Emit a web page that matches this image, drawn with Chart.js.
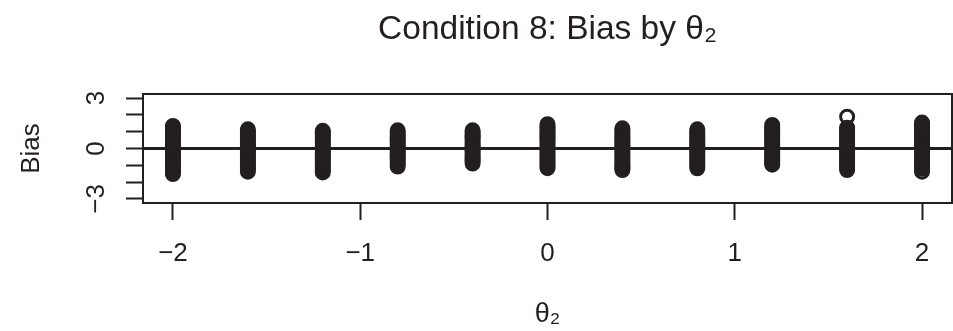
<!DOCTYPE html>
<html>
<head>
<meta charset="utf-8">
<script src="https://cdn.jsdelivr.net/npm/chart.js@4.4.1/dist/chart.umd.min.js"></script>
<style>
html,body{margin:0;padding:0;background:#fff;}
#wrap{width:953px;height:331px;}
</style>
</head>
<body>
<div id="wrap"><canvas id="chart" width="953" height="331"></canvas></div>
<script>

/* DATA */
let thetaLevels = [-2, -1.6, -1.2, -0.8, -0.4, 0, 0.4, 0.8, 1.2, 1.6, 2];

let biasM20 = [1.34, 1.24, 1.12, 1.01, 0.9, 0.78, 0.66, 0.55, 0.43, 0.31, 0.2, 0.08, -0.04, -0.15, -0.27, -0.39, -0.5, -0.62, -0.74, -0.85, -0.97, -1.08, -1.2, -1.31, -1.42, -1.52];
let biasM16 = [1.14, 1.03, 0.92, 0.8, 0.69, 0.57, 0.46, 0.34, 0.22, 0.11, -0.01, -0.12, -0.24, -0.35, -0.47, -0.58, -0.7, -0.81, -0.93, -1.04, -1.15, -1.25, -1.38];
let biasM12 = [1.05, 0.94, 0.83, 0.71, 0.6, 0.48, 0.37, 0.25, 0.14, 0.02, -0.09, -0.21, -0.32, -0.44, -0.55, -0.67, -0.78, -0.9, -1.01, -1.13, -1.24, -1.3, -1.42];
let biasM08 = [1.08, 0.97, 0.86, 0.74, 0.63, 0.52, 0.41, 0.3, 0.18, 0.07, -0.04, -0.15, -0.27, -0.38, -0.49, -0.6, -0.72, -0.83, -0.95, -1.07];
let biasM04 = [1.08, 0.97, 0.86, 0.75, 0.64, 0.53, 0.42, 0.31, 0.2, 0.09, -0.02, -0.13, -0.24, -0.35, -0.46, -0.57, -0.68, -0.78, -0.89];
let bias00 = [1.44, 1.33, 1.22, 1.1, 0.99, 0.87, 0.76, 0.64, 0.53, 0.41, 0.3, 0.18, 0.07, -0.05, -0.16, -0.28, -0.39, -0.51, -0.62, -0.74, -0.85, -0.97, -1.07, -1.17];
let biasP04 = [1.2, 1.09, 0.97, 0.86, 0.74, 0.63, 0.51, 0.4, 0.28, 0.17, 0.05, -0.06, -0.18, -0.29, -0.41, -0.52, -0.64, -0.75, -0.87, -0.98, -1.1, -1.17, -1.28];
let biasP08 = [1.14, 1.03, 0.91, 0.8, 0.68, 0.57, 0.45, 0.34, 0.22, 0.11, -0.01, -0.12, -0.24, -0.35, -0.47, -0.58, -0.7, -0.81, -0.93, -1.05, -1.18];
let biasP12 = [1.4, 1.27, 1.17, 1.06, 0.94, 0.83, 0.71, 0.6, 0.48, 0.37, 0.25, 0.14, 0.02, -0.09, -0.21, -0.32, -0.44, -0.55, -0.67, -0.78, -0.88, -0.96];
let biasP16 = [1.89, 1.24, 1.13, 1.01, 0.9, 0.78, 0.67, 0.55, 0.44, 0.32, 0.21, 0.09, -0.02, -0.14, -0.25, -0.37, -0.48, -0.6, -0.71, -0.83, -0.94, -1.06, -1.16, -1.28];
let biasP20 = [1.54, 1.43, 1.31, 1.2, 1.08, 0.97, 0.85, 0.74, 0.62, 0.51, 0.39, 0.28, 0.16, 0.05, -0.07, -0.18, -0.3, -0.41, -0.53, -0.64, -0.76, -0.87, -0.99, -1.1, -1.2, -1.38];

let biasColumns = [biasM20, biasM16, biasM12, biasM08, biasM04, bias00, biasP04, biasP08, biasP12, biasP16, biasP20];

let xTicks = [-2, -1, 0, 1, 2];
let yTicks = [-3, -2, -1, 0, 1, 2, 3];
let yTickLabels = [-3, 0, 3];
let xLimits = [-2.16, 2.16];
let yLimits = [-3.24, 3.24];

let ink = "#231f20";
let family = "'Liberation Sans', Arial, Helvetica, sans-serif";

/* POINTS */
let points = [];
thetaLevels.forEach((t, i) => {
biasColumns[i].forEach(b => {
points.push({x: t, y: b});
});
});

function fmt(v){
return v < 0 ? "\u2212" + Math.abs(v) : String(v);
}

// keep the plot region where R put it: no label overhang padding
function noPad(s){
s.paddingLeft = 0;
s.paddingRight = 0;
s.paddingTop = 0;
s.paddingBottom = 0;
}

/* plot box round the chart area, like R's box() */
let framePlugin = {
id: "frame",
afterDatasetsDraw(c){
let a = c.chartArea;
let g = c.ctx;
g.save();
g.strokeStyle = ink;
g.lineWidth = 2;
g.strokeRect(a.left, a.top, a.right - a.left, a.bottom - a.top);
g.restore();
}
};

Chart.defaults.font.family = family;

let ctx = document.getElementById("chart").getContext("2d");

let chart = new Chart(ctx, {
type: "scatter",
data: {
datasets: [
{
label: "Bias",
data: points,
pointStyle: "circle",
pointRadius: 6.5,
pointBorderWidth: 3,
pointBorderColor: ink,
pointBackgroundColor: "rgba(0,0,0,0)",
showLine: false,
order: 1
},
{
type: "line",
label: "zero",
data: [{x: xLimits[0], y: 0}, {x: xLimits[1], y: 0}],
borderColor: ink,
borderWidth: 3,
pointRadius: 0,
order: 0
}
]
},
options: {
responsive: false,
animation: false,
devicePixelRatio: 1,
layout: {autoPadding: false, padding: {left: 0, right: 1, top: 0, bottom: 0}},
plugins: {
legend: {display: false},
tooltip: {enabled: false},
title: {display: false}
},
scales: {
x: {
type: "linear",
position: "bottom",
min: xLimits[0],
max: xLimits[1],
afterBuildTicks: s => { s.ticks = xTicks.map(v => ({value: v})); },
afterFit: s => { s.height = 128; noPad(s); },
grid: {display: true, drawOnChartArea: false, drawTicks: true, tickLength: 17, tickColor: ink, tickWidth: 2},
border: {display: false},
ticks: {callback: v => fmt(v), font: {size: 26}, color: ink, padding: 18, maxRotation: 0, autoSkip: false},
title: {display: true, text: "θ₂", font: {size: 27}, color: ink, padding: {top: 0, bottom: 0}}
},
x2: {
type: "linear",
position: "top",
afterFit: s => { s.height = 94; noPad(s); },
grid: {display: false},
border: {display: false},
ticks: {display: false},
title: {display: true, text: "Condition 8: Bias by θ₂", font: {size: 33.5}, color: ink, padding: {top: 10, bottom: 0}}
},
y: {
type: "linear",
position: "left",
min: yLimits[0],
max: yLimits[1],
afterBuildTicks: s => { s.ticks = yTicks.map(v => ({value: v})); },
afterFit: s => { s.width = 143; noPad(s); },
grid: {display: true, drawOnChartArea: false, drawTicks: true, tickLength: 17, tickColor: ink, tickWidth: 2},
border: {display: false},
ticks: {
callback: v => yTickLabels.includes(v) ? fmt(v) : "",
font: {size: 26},
color: ink,
padding: 14,
minRotation: 90,
maxRotation: 90,
crossAlign: "center",
autoSkip: false
},
title: {display: true, text: "Bias", font: {size: 26}, color: ink, padding: {top: 16, bottom: 0}}
}
}
},
plugins: [framePlugin]
});

</script>
</body>
</html>
